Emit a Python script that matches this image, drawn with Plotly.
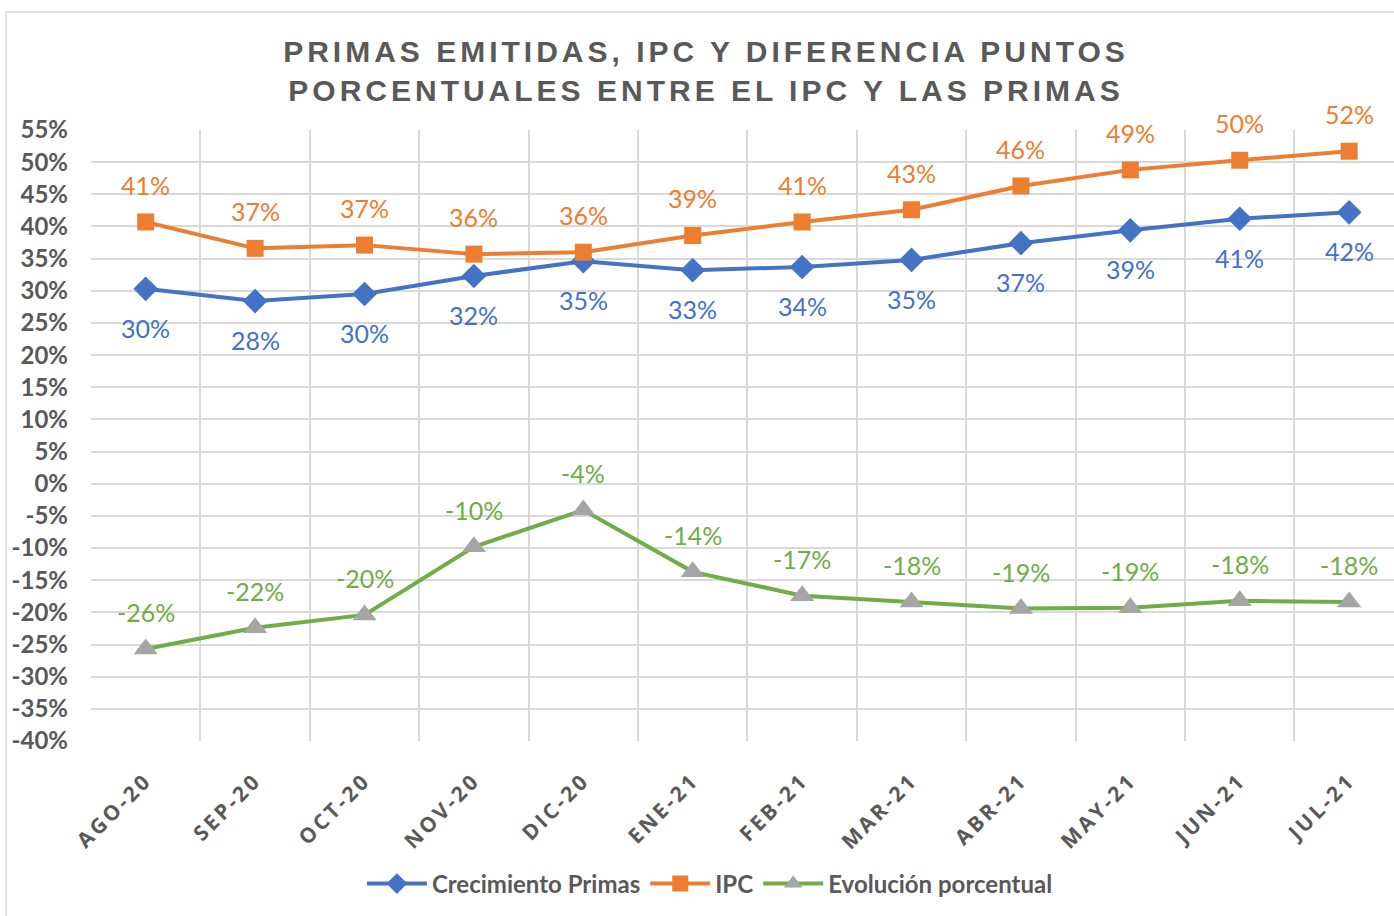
import plotly.graph_objects as go

categories = ["AGO-20", "SEP-20", "OCT-20", "NOV-20", "DIC-20", "ENE-21",
              "FEB-21", "MAR-21", "ABR-21", "MAY-21", "JUN-21", "JUL-21"]
crecimiento = [30.3, 28.4, 29.5, 32.3, 34.6, 33.2, 33.7, 34.8, 37.4, 39.4, 41.2, 42.2]
ipc = [40.7, 36.6, 37.1, 35.7, 36.0, 38.6, 40.7, 42.6, 46.3, 48.8, 50.3, 51.7]
evolucion = [-25.7, -22.4, -20.4, -9.8, -4.1, -13.7, -17.4, -18.4, -19.4, -19.3, -18.2, -18.4]
ytick_vals = list(range(-40, 60, 5))
ytick_text = [f"{v}%" for v in ytick_vals]

BLUE = "#4472C4"
ORANGE = "#ED7D31"
GREEN = "#70AD47"
GRAY_MK = "#A5A5A5"
TXT = "#595959"
GRID = "#D9D9D9"

fig = go.Figure()
fig.add_trace(go.Scatter(x=categories, y=crecimiento, name="Crecimiento Primas",
                         mode="lines+markers",
                         line=dict(color=BLUE, width=4),
                         marker=dict(symbol="diamond", size=19, color=BLUE)))
fig.add_trace(go.Scatter(x=categories, y=ipc, name="IPC",
                         mode="lines+markers",
                         line=dict(color=ORANGE, width=4),
                         marker=dict(symbol="square", size=17, color=ORANGE)))
fig.add_trace(go.Scatter(x=categories, y=evolucion, name="Evolución porcentual",
                         mode="lines+markers",
                         line=dict(color=GREEN, width=4),
                         marker=dict(symbol="triangle-up", size=21, color=GRAY_MK)))

annotations = []
for series, color, shift in [(crecimiento, BLUE, -39), (ipc, ORANGE, 37), (evolucion, GREEN, 37)]:
    for c, v in zip(categories, series):
        annotations.append(dict(x=c, y=v, xref="x", yref="y", text=f"{round(v):.0f}%",
                                showarrow=False, yshift=shift,
                                font=dict(family="Lato", size=25, color=color)))

xtick_text = [f'<span style="letter-spacing:3px">{c}</span>' for c in categories]

fig.update_layout(
    width=1394, height=916,
    margin=dict(l=91, r=0, t=130, b=175),
    paper_bgcolor="white", plot_bgcolor="white",
    title=dict(
        text='<span style="letter-spacing:4px">PRIMAS EMITIDAS, IPC Y DIFERENCIA PUNTOS<br>PORCENTUALES ENTRE EL IPC Y LAS PRIMAS</span>',
        x=706 / 1394, xanchor="center", y=1 - 62 / 916, yanchor="top",
        font=dict(family="Liberation Sans", size=30, color=TXT, weight="bold")),
    showlegend=True,
    legend=dict(orientation="h", x=0.475, xanchor="center", y=-0.234, yanchor="middle",
                font=dict(family="Lato", size=24, color=TXT, weight="bold"),
                itemwidth=60, traceorder="normal"),
    annotations=annotations,
    xaxis=dict(type="category", range=[-0.5, 11.41], tickson="boundaries",
               showgrid=True, gridcolor=GRID, gridwidth=1.5, ticks="",
               tickvals=categories, ticktext=xtick_text,
               tickangle=-45, ticklabelstandoff=22,
               tickfont=dict(family="Open Sans", size=21, color=TXT, weight="bold"),
               showline=False, zeroline=False),
    yaxis=dict(range=[-40, 55], tickvals=ytick_vals, ticktext=ytick_text, showgrid=True,
               gridcolor=GRID, gridwidth=1.5, zeroline=True, zerolinecolor=GRID,
               zerolinewidth=1.5, ticks="", ticklabelstandoff=22,
               tickfont=dict(family="Lato", size=24, color=TXT, weight="bold"),
               showline=False),
    shapes=[dict(type="rect", xref="paper", yref="paper",
                 x0=-0.0652, x1=1.02, y0=-0.4, y1=1.1931,
                 line=dict(color=GRID, width=1.5), fillcolor="rgba(0,0,0,0)", layer="below")],
)

fig.write_html("out.html", config={"displayModeBar": False},
               post_script="document.body.style.margin='0';")
